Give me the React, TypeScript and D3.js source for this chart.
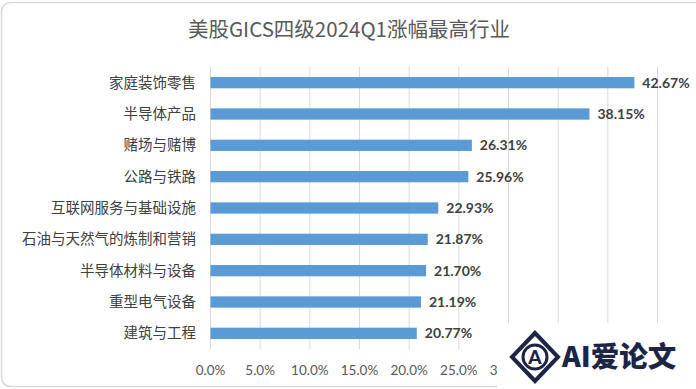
import React from "react";
import * as d3 from "d3";

const categories = [
  "家庭装饰零售",
  "半导体产品",
  "赌场与赌博",
  "公路与铁路",
  "互联网服务与基础设施",
  "石油与天然气的炼制和营销",
  "半导体材料与设备",
  "重型电气设备",
  "建筑与工程",
];
const values = [42.67, 38.15, 26.31, 25.96, 22.93, 21.87, 21.7, 21.19, 20.77];
const gridTicks = [0, 5, 10, 15, 20, 25, 30, 35, 40, 45];
const visibleTickLabels = [0, 5, 10, 15, 20, 25, 30];
const title = "美股GICS四级2024Q1涨幅最高行业";

export default function App() {
  const W = 696;
  const H = 389;
  const x = d3.scaleLinear().domain([0, 45]).range([210.5, 657.5]);
  const y = d3.scaleBand<string>().domain(categories).range([67, 349]).paddingInner(0.64).paddingOuter(0.32);
  const cjk = '"Noto Sans CJK SC", "Noto Sans", sans-serif';
  return (
    <svg width={W} height={H} style={{ position: "absolute", left: 0, top: 0, background: "#fff" }}>
      <defs>
        <clipPath id="tickclip">
          <rect x={0} y={0} width={497} height={H} />
        </clipPath>
      </defs>
      <rect x={1.5} y={2.5} width={W + 10} height={384} rx={9} fill="#fff" stroke="#d9d9d9" strokeWidth={1.5} />
      <text x={349} y={37} textAnchor="middle" fontFamily={cjk} fontSize={20.5} fill="#595959">
        {title}
      </text>
      {gridTicks.map((t) => (
        <line key={t} x1={x(t)} x2={x(t)} y1={67} y2={349} stroke="#d9d9d9" strokeWidth={1} />
      ))}
      {categories.map((c, i) => {
        const yy = y(c)!;
        const bw = y.bandwidth();
        return (
          <g key={c}>
            <rect x={x(0)} y={yy} width={x(values[i]) - x(0)} height={bw} fill="#5b9bd5" />
            <text x={196} y={yy + bw / 2} dy="0.35em" textAnchor="end" fontFamily={cjk} fontSize={14.5} fill="#404040">
              {c}
            </text>
            <text x={x(values[i]) + 8} y={yy + bw / 2} dy="0.36em" fontFamily="Lato, sans-serif" fontWeight={700} fontSize={14} fill="#404040">
              {values[i].toFixed(2)}%
            </text>
          </g>
        );
      })}
      <g clipPath="url(#tickclip)">
        {visibleTickLabels.map((t) => (
          <text key={t} x={x(t)} y={375} textAnchor="middle" fontFamily="Lato, sans-serif" fontSize={13.5} fill="#595959">
            {t.toFixed(1)}%
          </text>
        ))}
      </g>
      {/* watermark */}
      <rect x={497} y={323} width={210} height={70} fill="#fff" />
      <g transform="translate(535,357)">
        <path d="M0,-24 L23,0 L0,24 L-23,0 Z" fill="none" stroke="#1c2546" strokeWidth={4} />
        <path d="M0,-14 L13,0 L0,14 L-13,0 Z" fill="#fff" />
        <circle r={12} fill="#fff" stroke="#1c2546" strokeWidth={3} />
        <text y={0} dy="0.36em" textAnchor="middle" fontFamily="Lato, sans-serif" fontWeight={900} fontSize={19} fill="#1c2546">
          A
        </text>
      </g>
      <text x={562} y={357} dy="0.36em" fontFamily={cjk} fontWeight={900} fontSize={28.5} fill="#1c2546">
        AI爱论文
      </text>
    </svg>
  );
}
